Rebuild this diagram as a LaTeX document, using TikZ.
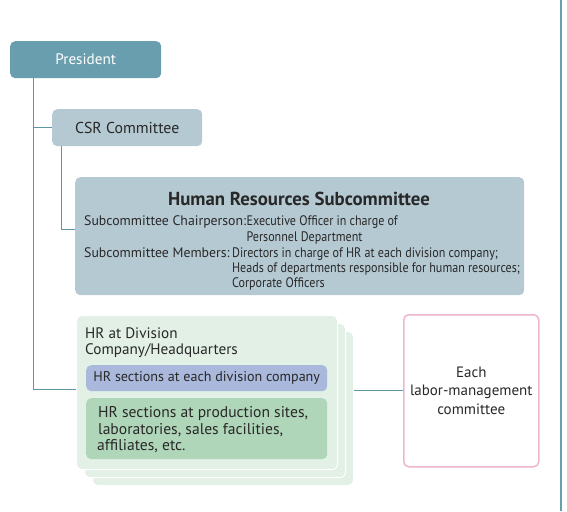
\documentclass[tikz,border=0pt]{standalone}
\usepackage{fontspec}
\setmainfont{PT Sans}
\newfontfamily\narrowfont{PT Sans}[FakeStretch=0.875]
\usetikzlibrary{positioning}
\definecolor{presblue}{RGB}{104,158,174}
\definecolor{csrgray}{RGB}{181,201,210}
\definecolor{stackgreen}{RGB}{226,240,230}
\definecolor{secblue}{RGB}{169,184,219}
\definecolor{secgreen}{RGB}{176,214,185}
\definecolor{laborpink}{RGB}{238,182,206}
\definecolor{linkteal}{RGB}{95,150,165}
\definecolor{darktext}{RGB}{40,40,40}

\begin{document}
\begin{tikzpicture}[x=1pt,y=-1pt,font=\fontsize{15.2}{17}\selectfont,text=darktext,
 unit/.style={rounded corners=5pt,anchor=north west,inner sep=0pt,align=center},
 layer/.style={unit,fill=stackgreen,draw=white,line width=1pt,minimum width=261pt,minimum height=154pt},
 detail/.style={anchor=base west,inner sep=0pt,font=\fontsize{13.8}{15}\selectfont},
 value/.style={detail,font=\narrowfont\fontsize{13.8}{15}\selectfont},
 link/.style={draw=linkteal,line width=0.9pt}]
\useasboundingbox (0,0) rectangle (567,511);
% top of the chart
\node[unit,fill=presblue,text=white,minimum width=151pt,minimum height=37pt] (pres) at (10,41) {President};
\node[unit,fill=csrgray,minimum width=150pt,minimum height=37pt,font=\fontsize{15.8}{17}\selectfont] (csr) at (52,109) {CSR Committee};
\node[unit,fill=csrgray,minimum width=449pt,minimum height=118pt] (hrs) at (75,177) {};
\node[anchor=base,inner sep=0pt,font=\bfseries\fontsize{18.8}{20}\selectfont] (hrstitle) at (299,205) {Human Resources Subcommittee};
\node[detail] (chl) at (84,225) {Subcommittee Chairperson:};
\node[value] (chv) at (chl.base east) {Executive Officer in charge of};
\node[value] at (chv.base west |- 0,241) {Personnel Department};
\node[detail] (mbl) at (84,257) {Subcommittee Members:};
\node[value] (mbv) at ([xshift=2pt]mbl.base east) {Directors in charge of HR at each division company;};
\node[value] at (mbv.base west |- 0,272) {Heads of departments responsible for human resources;};
\node[value] at (mbv.base west |- 0,287) {Corporate Officers};
% HR at division companies
\node[layer] (hrC) at (92,331) {};
\node[layer] (hrB) at (84,323) {};
\node[layer] (hrA) at (76,315) {};
\node[anchor=base west,inner sep=0pt] at (85,338) {HR at Division};
\node[anchor=base west,inner sep=0pt] at (85,354) {Company/Headquarters};
\node[unit,fill=secblue,minimum width=241pt,minimum height=26pt,font=\fontsize{14.1}{16}\selectfont] (secdiv) at (86,365) {HR sections at each division company};
\node[unit,fill=secgreen,minimum width=241pt,minimum height=61pt] (secsite) at (86,398) {};
\node[anchor=base west,inner sep=0pt,font=\fontsize{15.6}{17}\selectfont] at (98,417) {HR sections at production sites,};
\node[anchor=base west,inner sep=0pt,font=\fontsize{15.6}{17}\selectfont] at (98,434) {laboratories, sales facilities,};
\node[anchor=base west,inner sep=0pt,font=\fontsize{15.6}{17}\selectfont] at (97,450) {affiliates, etc.};
\node[unit,draw=laborpink,line width=1.5pt,fill=white,minimum width=135pt,minimum height=152pt,
 font=\fontsize{15}{18.5}\selectfont] (labor) at (403,314) {Each\\labor-management\\committee};
% connectors
\coordinate (trunk) at ([xshift=23pt]pres.south west);
\draw[link] (trunk) |- ([yshift=3pt]hrA.west);
\draw[link] (trunk |- csr.west) -- (csr.west);
\draw[link] ([xshift=9pt]csr.south west) |- ([yshift=7pt]hrs.west);
\draw[link] (hrC.east |- labor.west) -- (labor.west);
\draw[draw=presblue,line width=2pt] (561,0) -- (561,511);
\end{tikzpicture}
\end{document}
